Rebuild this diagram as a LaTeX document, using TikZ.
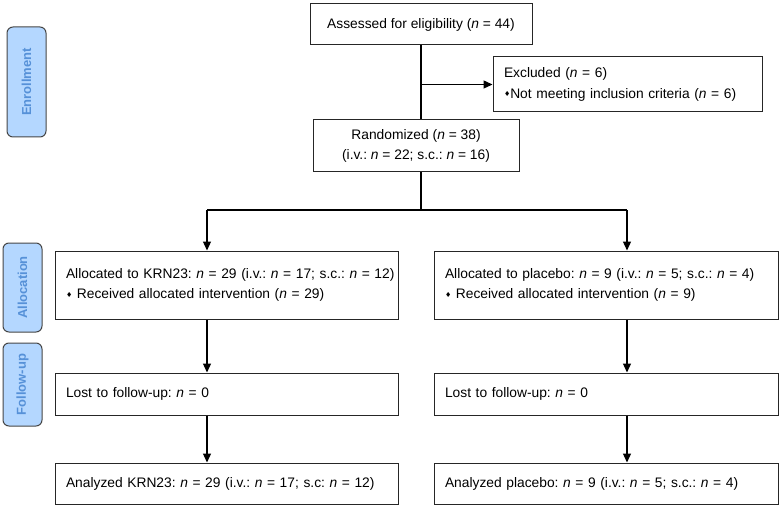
\documentclass[tikz,border=0pt]{standalone}
\usepackage{fontspec}
\setmainfont{Liberation Sans}
\newfontfamily\bulletfont{DejaVu Sans}
\usetikzlibrary{arrows.meta}
\definecolor{tabfill}{RGB}{180,215,255}
\definecolor{tabtext}{RGB}{86,145,216}
\definecolor{tabline}{RGB}{70,70,70}
\newcommand{\Nn}{\textit{n}}
\newcommand{\dmd}{{\bulletfont\fontsize{7}{7}\selectfont\raisebox{1.5pt}{♦}}}
\frenchspacing
\begin{document}
\begin{tikzpicture}[x=1pt,y=-1pt,
  font=\fontsize{13.8}{20.5}\selectfont,
  box/.style={draw=black!85,line width=1pt,inner xsep=11pt,inner ysep=0pt},
  tab/.style={draw=tabline,fill=tabfill,line width=1pt,rounded corners=6pt,
    rotate=90,text=tabtext,font=\fontsize{13}{13}\selectfont\bfseries,
    minimum height=39pt,inner sep=0pt},
  arr/.style={-{Triangle[length=9pt,width=8pt]},line width=1.3pt},
  link/.style={line width=1.3pt}]
  \useasboundingbox (0,0) rectangle (782,508);
  \node[tab,minimum width=110pt] (enroll) at (26.5,82) {Enrollment};
  \node[tab,minimum width=89pt] (alloc) at (22.5,287.5) {Allocation};
  \node[tab,minimum width=83pt] (follow) at (22.5,384.5) {Follow-up};
  \node[box,minimum width=222pt,minimum height=41pt] (assess) at (421,24.5)
    {Assessed for eligibility (\Nn{} = 44)};
  \node[box,align=left,text width=247pt,minimum height=55pt] (excl) at (627.5,84.5)
    {Excluded (\Nn{} = 6)\\\dmd Not meeting inclusion criteria (\Nn{} = 6)};
  \node[box,align=center,minimum width=206pt,minimum height=52pt] (rand) at (416,146)
    {Randomized (\Nn{} = 38)\\(i.v.: \Nn{} = 22; s.c.: \Nn{} = 16)};
  \node[box,align=left,text width=321pt,minimum height=68pt] (allocK) at (226.5,285)
    {\mbox{Allocated to KRN23: \Nn{} = 29 (i.v.: \Nn{} = 17; s.c.: \Nn{} = 12)}\\
     \dmd\ Received allocated intervention (\Nn{} = 29)\\[-9pt]};
  \node[box,align=left,text width=322pt,minimum height=68pt] (allocP) at (606,285)
    {Allocated to placebo: \Nn{} = 9 (i.v.: \Nn{} = 5; s.c.: \Nn{} = 4)\\
     \dmd\ Received allocated intervention (\Nn{} = 9)\\[-9pt]};
  \node[box,align=left,text width=321pt,minimum height=42pt] (lostK) at (226.5,394)
    {Lost to follow-up: \Nn{} = 0};
  \node[box,align=left,text width=322pt,minimum height=42pt] (lostP) at (606,394)
    {Lost to follow-up: \Nn{} = 0};
  \node[box,align=left,text width=321pt,minimum height=41pt] (anaK) at (226.5,483.5)
    {Analyzed KRN23: \Nn{} = 29 (i.v.: \Nn{} = 17; s.c: \Nn{} = 12)};
  \node[box,align=left,text width=322pt,minimum height=41pt] (anaP) at (606,483.5)
    {Analyzed placebo: \Nn{} = 9 (i.v.: \Nn{} = 5; s.c.: \Nn{} = 4)};
  \coordinate (spine) at (421,0);
  \coordinate (jl) at (207,210);
  \coordinate (jr) at (627,210);
  \draw[link] (spine |- assess.south) -- (spine |- rand.north);
  \draw[arr] (spine |- excl.west) -- (excl.west);
  \draw[link] (spine |- rand.south) -- (spine |- jl);
  \draw[link] (jl) -- (jr);
  \draw[arr] (jl) -- (jl |- allocK.north);
  \draw[arr] (jr) -- (jr |- allocP.north);
  \draw[arr] (jl |- allocK.south) -- (jl |- lostK.north);
  \draw[arr] (jr |- allocP.south) -- (jr |- lostP.north);
  \draw[arr] (jl |- lostK.south) -- (jl |- anaK.north);
  \draw[arr] (jr |- lostP.south) -- (jr |- anaP.north);
\end{tikzpicture}
\end{document}
